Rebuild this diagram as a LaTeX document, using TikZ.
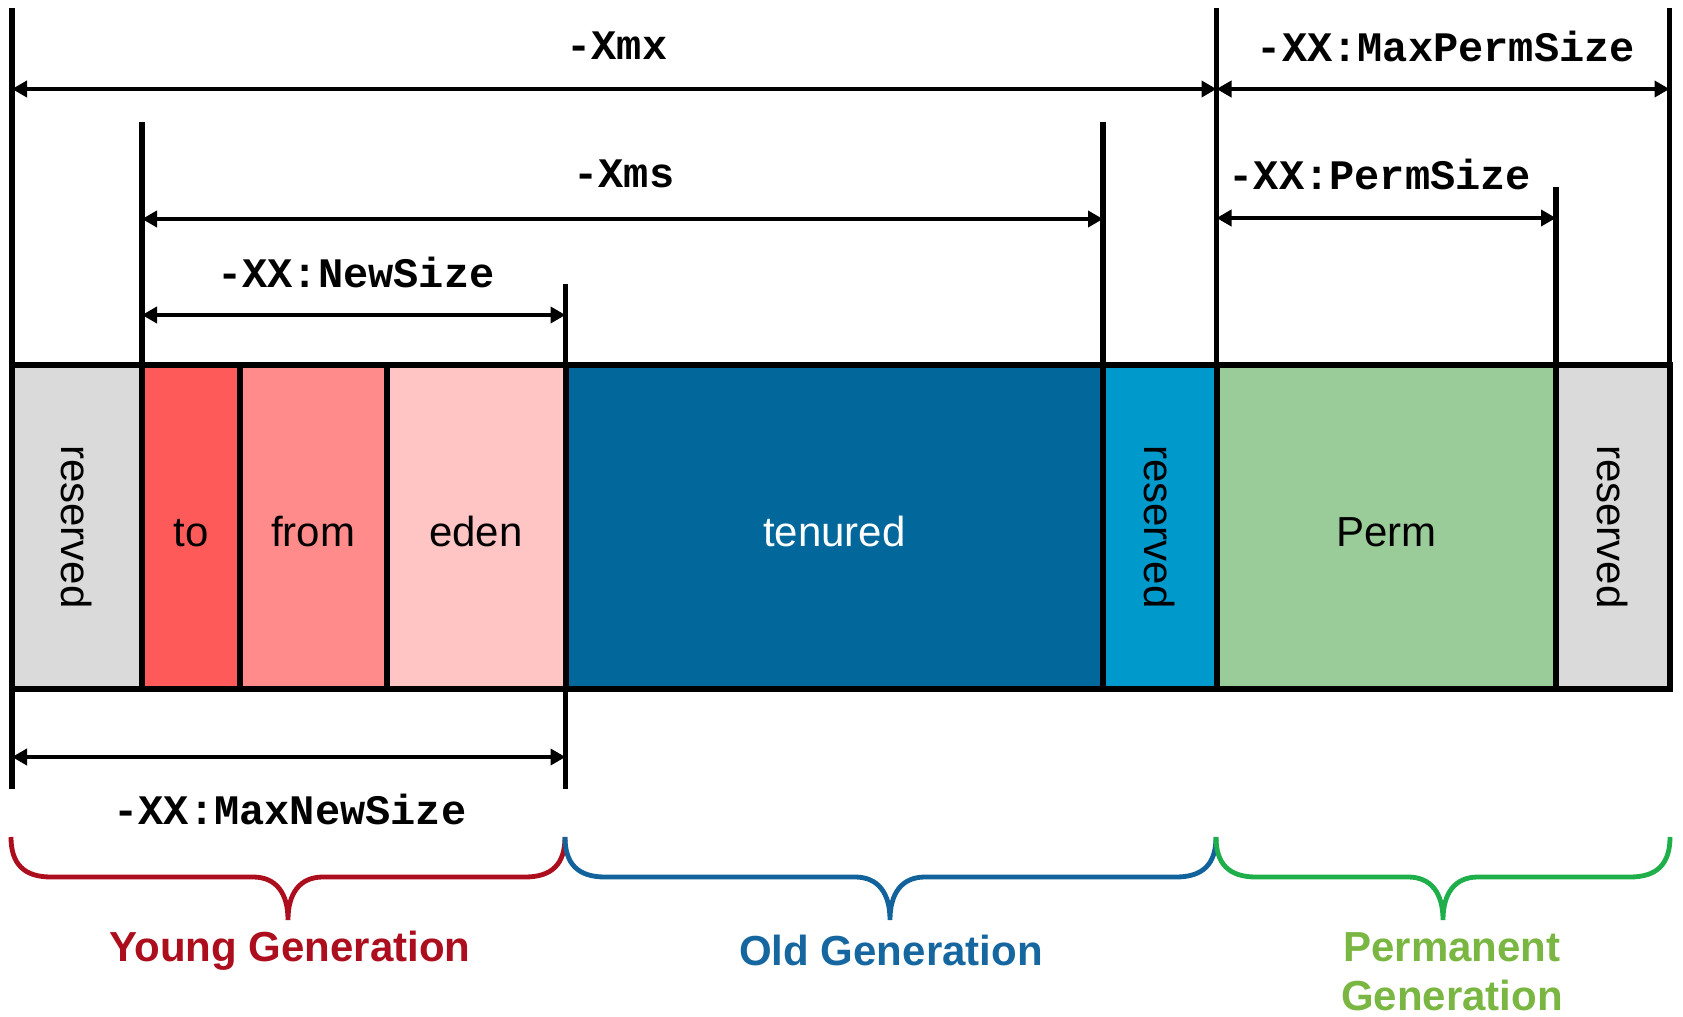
\documentclass[tikz,border=0pt]{standalone}
\usepackage{fontspec}
\setmainfont{Liberation Sans}
\setmonofont{Liberation Mono}
\usetikzlibrary{arrows.meta}

\definecolor{resgray}{RGB}{218,218,218}
\definecolor{tocol}{RGB}{255,90,90}
\definecolor{fromcol}{RGB}{255,140,138}
\definecolor{edencol}{RGB}{255,197,197}
\definecolor{tenuredcol}{RGB}{2,103,154}
\definecolor{resblue}{RGB}{0,153,204}
\definecolor{permcol}{RGB}{153,204,153}
\definecolor{youngcol}{RGB}{172,14,30}
\definecolor{oldcol}{RGB}{18,98,155}
\definecolor{oldtext}{RGB}{22,102,160}
\definecolor{permbrace}{RGB}{30,174,74}
\definecolor{permtext}{RGB}{122,182,66}

% curly brace under one generation: left x, right x, middle x, colour
\newcommand\drawgenbrace[4]{%
  \draw[genbrace,#4] (#1,837) .. controls (#1,864) and (#1+13,877) .. (#1+40,877)
    -- (#3-35,877) .. controls (#3-12,877) and (#3,893) .. (#3,920)
    .. controls (#3,893) and (#3+12,877) .. (#3+35,877)
    -- (#2-40,877) .. controls (#2-13,877) and (#2,864) .. (#2,837);}

\begin{document}
\begin{tikzpicture}[x=0.5pt,y=-0.5pt,
  cell/.style={draw=black, line width=3pt, inner sep=0pt, outer sep=0pt,
    minimum height=162pt, text height=19.5pt, text depth=0pt,
    font=\fontsize{21}{25}\selectfont},
  vcell/.style={draw=black, line width=3pt, inner sep=0pt, outer sep=0pt,
    minimum width=162pt, rotate=-90, font=\fontsize{21}{25}\selectfont},
  extline/.style={line width=2.8pt},
  dim/.style={line width=2.2pt,
    {Triangle[length=7.5pt,width=8pt]}-{Triangle[length=7.5pt,width=8pt]}},
  opt/.style={font=\ttfamily\bfseries\fontsize{21}{25}\selectfont, inner sep=0pt},
  gen/.style={font=\bfseries\fontsize{21}{24.5}\selectfont, align=center, inner sep=0pt},
  genbrace/.style={line width=2.4pt}
]
\useasboundingbox (0,0) rectangle (1683,1017);
\fill[white] (0,0) rectangle (1683,1017);

% extension lines marking the limits of each option
\coordinate (e0t) at (12,8);      \coordinate (e0b) at (12,789);
\coordinate (e1t) at (142,122);   \coordinate (e1b) at (142,365);
\coordinate (e2t) at (565.5,284); \coordinate (e2b) at (565.5,789);
\coordinate (e3t) at (1103,122);  \coordinate (e3b) at (1103,365);
\coordinate (e4t) at (1216.5,8);  \coordinate (e4b) at (1216.5,365);
\coordinate (e5t) at (1556,187);  \coordinate (e5b) at (1556,365);
\coordinate (e6t) at (1669.5,8);  \coordinate (e6b) at (1669.5,365);
\foreach \i in {0,...,6} \draw[extline] (e\i t) -- (e\i b);

% memory regions
\node[vcell, fill=resgray, minimum height=65pt] (res1) at (77,527) {reserved};
\node[cell, fill=tocol, minimum width=49pt] (to) at (191,527) {to};
\node[cell, fill=fromcol, minimum width=73.25pt] (from) at (313.25,527) {from};
\node[cell, fill=edencol, minimum width=89.5pt] (eden) at (476,527) {eden};
\node[cell, fill=tenuredcol, text=white, minimum width=268.75pt] (tenured) at (834.25,527) {tenured};
\node[vcell, fill=resblue, minimum height=56.75pt] (res2) at (1159.75,527) {reserved};
\node[cell, fill=permcol, minimum width=169.75pt] (perm) at (1386.25,527) {Perm};
\node[vcell, fill=resgray, minimum height=56.75pt] (res3) at (1612.75,527) {reserved};

% size options
\coordinate (xmxL) at (12,89);      \coordinate (xmxR) at (1216.5,89);
\coordinate (mpsL) at (1216.5,89);  \coordinate (mpsR) at (1669.5,89);
\coordinate (xmsL) at (142,219);    \coordinate (xmsR) at (1103,219);
\coordinate (psL) at (1216.5,218);  \coordinate (psR) at (1556,218);
\coordinate (nsL) at (142,315);     \coordinate (nsR) at (565.5,315);
\coordinate (mnsL) at (12,757);     \coordinate (mnsR) at (565.5,757);

\draw[dim] (xmxL) -- (xmxR);
\draw[dim] (mpsL) -- (mpsR);
\draw[dim] (xmsL) -- (xmsR);
\draw[dim] (psL) -- (psR);
\draw[dim] (nsL) -- (nsR);
\draw[dim] (mnsL) -- (mnsR);

\node[opt] (lxmx) at (617,46) {-Xmx};
\node[opt] (lmps) at (1446,46) {-XX:MaxPermSize};
\node[opt] (lxms) at (624,174) {-Xms};
\node[opt] (lps) at (1380,174) {-XX:PermSize};
\node[opt] (lns) at (356,272) {-XX:NewSize};
\node[opt] (lmns) at (290,809) {-XX:MaxNewSize};

% generations
\drawgenbrace{11}{565}{288}{youngcol}
\drawgenbrace{565}{1216}{890}{oldcol}
\drawgenbrace{1216}{1670}{1443}{permbrace}

\node[gen, text=youngcol] (young) at (290,951) {Young Generation};
\node[gen, text=oldtext] (old) at (891,950) {Old Generation};
\node[gen, text=permtext] (permgen) at (1452,972) {Permanent\\Generation};
\end{tikzpicture}
\end{document}
